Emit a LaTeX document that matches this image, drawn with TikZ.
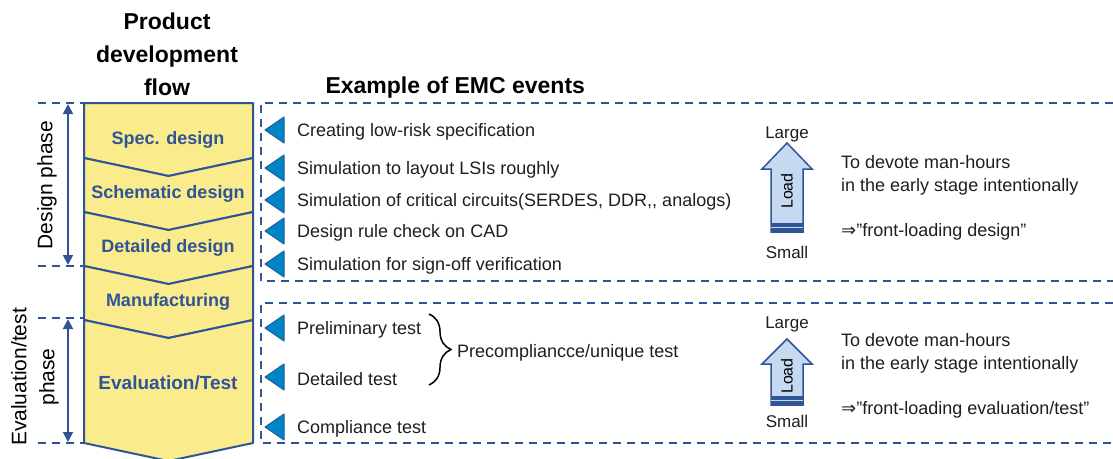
\documentclass[tikz,border=0pt]{standalone}
\usepackage{fontspec}
\setmainfont{Liberation Sans}
\newfontfamily\symfont{DejaVu Sans}
\usetikzlibrary{arrows.meta,decorations.pathreplacing}
\definecolor{flowfill}{RGB}{250,235,140}
\definecolor{flowblue}{RGB}{47,85,151}
\definecolor{trifill}{RGB}{0,132,200}
\definecolor{triedge}{RGB}{30,95,155}
\definecolor{loadfill}{RGB}{197,217,241}
\definecolor{txt}{RGB}{30,30,30}
\begin{document}
\begin{tikzpicture}[x=1pt,y=-1pt,
  seg/.style={fill=flowfill,draw=flowblue,line width=2pt,line join=round},
  flowlabel/.style={text=flowblue,font=\fontsize{18}{20}\selectfont\bfseries},
  titletext/.style={font=\fontsize{23}{33}\selectfont\bfseries,align=center,text=black},
  phase/.style={font=\fontsize{21}{28}\selectfont,rotate=90,align=center,text=black},
  dashline/.style={draw=flowblue,line width=1.8pt,dash pattern=on 8pt off 6pt},
  span/.style={draw=flowblue,line width=1.8pt,{Triangle[length=10pt,width=10pt]}-{Triangle[length=10pt,width=10pt]}},
  event/.style={anchor=west,font=\fontsize{18}{20}\selectfont,text=txt,inner sep=0pt,yshift=-2pt},
  tri/.style={fill=trifill,draw=triedge,line width=1pt,line join=round},
  sizelbl/.style={font=\fontsize{17}{20}\selectfont,text=txt,inner sep=0pt},
  note/.style={anchor=west,font=\fontsize{18}{23}\selectfont,text=txt,align=left,inner sep=0pt,yshift=-1.5pt},
  loadarrow/.style={fill=loadfill,draw=flowblue,line width=1.5pt,line join=miter},
  loadlbl/.style={font=\fontsize{16}{18}\selectfont,rotate=90,text=black,inner sep=0pt},
  bracestyle/.style={draw=black,line width=1.5pt,decorate,decoration={brace,amplitude=22pt}}
]
\useasboundingbox (0,0) rectangle (1113,458);

% titles
\node[titletext] (ttl1) at (167,54) {Product\\development\\flow};
\node[titletext,anchor=west] (ttl2) at (322,88) {Example of EMC events};

% flow segments
\path[seg] (84,103) -- (253,103) -- (253,158) -- (168.5,176) -- (84,158) -- cycle;
\path[seg] (84,158) -- (168.5,176) -- (253,158) -- (253,212) -- (168.5,230) -- (84,212) -- cycle;
\path[seg] (84,212) -- (168.5,230) -- (253,212) -- (253,266) -- (168.5,284) -- (84,266) -- cycle;
\path[seg] (84,266) -- (168.5,284) -- (253,266) -- (253,320) -- (168.5,338) -- (84,320) -- cycle;
\path[seg] (84,320) -- (168.5,338) -- (253,320) -- (253,443) -- (168.5,461) -- (84,443) -- cycle;

\node[flowlabel] (spec) at (168,140) {Spec. design};
\node[flowlabel] (schem) at (168,194) {Schematic design};
\node[flowlabel] (detail) at (168,248) {Detailed design};
\node[flowlabel] (manuf) at (168,302) {Manufacturing};
\node[flowlabel,font=\fontsize{19}{21}\selectfont\bfseries] (evalt) at (168,383) {Evaluation/Test};

% phase markers
\draw[dashline] (38,103) -- (84,103);
\draw[dashline] (38,266) -- (84,266);
\draw[dashline] (38,318) -- (84,318);
\draw[dashline] (38,443) -- (84,443);
\coordinate (da) at (68,104);
\coordinate (db) at (68,265);
\coordinate (ea) at (68,319);
\coordinate (eb) at (68,442);
\draw[span] (da) -- (db);
\draw[span] (ea) -- (eb);
\node[phase] (dphase) at (47,185) {Design phase};
\node[phase] (ephase) at (35,377) {Evaluation/test\\phase};

% right boxes
\draw[dashline] (1113,103) -- (261,103) -- (261,281) -- (1113,281);
\draw[dashline] (1113,303) -- (261,303) -- (261,443) -- (1113,443);

% event markers
\foreach \yy in {130,168,200,231,264,328,377,427}{
  \path[tri] (265,\yy) -- (284,\yy-13) -- (284,\yy+13) -- cycle;
}
\node[event] (ev1) at (297,130) {Creating low-risk specification};
\node[event] (ev2) at (297,168) {Simulation to layout LSIs roughly};
\node[event] (ev3) at (297,200) {Simulation of critical circuits(SERDES, DDR,{}, analogs)};
\node[event] (ev4) at (297,231) {Design rule check on CAD};
\node[event] (ev5) at (297,264) {Simulation for sign-off verification};
\node[event] (ev6) at (297,328) {Preliminary test};
\node[event] (ev7) at (297,377) {Detailed test};
\node[event] (ev8) at (297,427) {Compliance test};

% brace
\coordinate (bra) at (429,314);
\coordinate (brb) at (429,385);
\draw[bracestyle] (bra) -- (brb);
\node[event] (pre) at (457,351) {Precompliancce/unique test};

% load arrow 1
\path[loadarrow] (787,143) -- (812,169) -- (803,169) -- (803,232) -- (771,232) -- (771,169) -- (762,169) -- cycle;
\fill[flowblue] (771,223) rectangle (803,232);
\draw[loadfill,line width=1.2pt] (771,227.5) -- (803,227.5);
\node[loadlbl] (load1) at (787,191) {Load};
\node[sizelbl] (large1) at (787,134) {Large};
\node[sizelbl] (small1) at (787,252) {Small};
\node[note] (note1) at (841,173.5) {To devote man-hours\\in the early stage intentionally};
\node[note] (fl1) at (841,230) {{\symfont ⇒}”front-loading design”};

% load arrow 2
\path[loadarrow] (787,339) -- (812,364) -- (803,364) -- (803,405) -- (771,405) -- (771,364) -- (762,364) -- cycle;
\fill[flowblue] (771,396) rectangle (803,405);
\draw[loadfill,line width=1.2pt] (771,400.5) -- (803,400.5);
\node[loadlbl] (load2) at (787,376) {Load};
\node[sizelbl] (large2) at (787,324) {Large};
\node[sizelbl] (small2) at (787,421) {Small};
\node[note] (note2) at (841,351.5) {To devote man-hours\\in the early stage intentionally};
\node[note] (fl2) at (841,408) {{\symfont ⇒}”front-loading evaluation/test”};
\end{tikzpicture}
\end{document}
